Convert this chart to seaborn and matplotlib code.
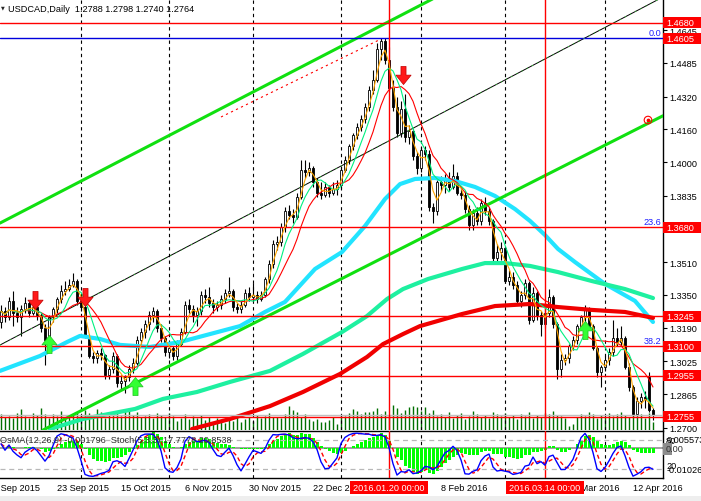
import matplotlib
matplotlib.use("Agg")
import numpy as np
import pandas as pd
import seaborn as sns
import matplotlib.pyplot as plt
import matplotlib.transforms as mtransforms
from matplotlib.patches import Rectangle
from matplotlib.path import Path

# USDCAD daily bars, Sep 2015 - Apr 2016
opens = [
    1.3220, 1.3270, 1.3240, 1.3320, 1.3260, 1.3240, 1.3280, 1.3310, 1.3260, 1.3290,
    1.3250, 1.3190, 1.3130, 1.3240, 1.3280, 1.3330, 1.3370, 1.3380, 1.3400, 1.3420,
    1.3320, 1.3290, 1.3150, 1.3050, 1.3040, 1.3065, 1.3055, 1.2960, 1.2990, 1.3050,
    1.2920, 1.2930, 1.2950, 1.2990, 1.3020, 1.3130, 1.3170, 1.3210, 1.3250, 1.3270,
    1.3190, 1.3140, 1.3070, 1.3090, 1.3050, 1.3110, 1.3170, 1.3300, 1.3280, 1.3250,
    1.3270, 1.3350, 1.3340, 1.3310, 1.3290, 1.3300, 1.3330, 1.3360, 1.3370, 1.3290,
    1.3280, 1.3300, 1.3360, 1.3340, 1.3350, 1.3330, 1.3350, 1.3430, 1.3500, 1.3600,
    1.3610, 1.3680, 1.3760, 1.3740, 1.3730, 1.3830, 1.3960, 1.3950, 1.3970, 1.3900,
    1.3850, 1.3840, 1.3880, 1.3850, 1.3870, 1.3890, 1.3960, 1.4010, 1.4080, 1.4130,
    1.4170, 1.4210, 1.4270, 1.4350, 1.4400, 1.4550, 1.4590, 1.4500, 1.4360, 1.4270,
    1.4140, 1.4260, 1.4120, 1.4150, 1.4030, 1.3970, 1.4060, 1.4040, 1.3780, 1.3760,
    1.3900, 1.3890, 1.3910, 1.3880, 1.3930, 1.3850, 1.3840, 1.3770, 1.3690, 1.3750,
    1.3710, 1.3800, 1.3760, 1.3710, 1.3530, 1.3560, 1.3580, 1.3420, 1.3440, 1.3400,
    1.3320, 1.3350, 1.3410, 1.3230, 1.3360, 1.3250, 1.3210, 1.3260, 1.3340, 1.3210,
    1.2990, 1.3030, 1.3040, 1.3100, 1.3130, 1.3200, 1.3240, 1.3280, 1.3200, 1.3090,
    1.2975, 1.3000, 1.3030, 1.3070, 1.3140, 1.3120, 1.3140, 1.3000, 1.2900, 1.2770,
    1.2830, 1.2850, 1.2950, 1.2788,
]
highs = [
    1.3300, 1.3290, 1.3340, 1.3370, 1.3290, 1.3300, 1.3340, 1.3320, 1.3310, 1.3300,
    1.3260, 1.3210, 1.3250, 1.3290, 1.3340, 1.3400, 1.3420, 1.3430, 1.3456, 1.3430,
    1.3350, 1.3300, 1.3160, 1.3070, 1.3080, 1.3090, 1.3060, 1.3010, 1.3070, 1.3060,
    1.2960, 1.2960, 1.3010, 1.3040, 1.3150, 1.3190, 1.3230, 1.3270, 1.3290, 1.3280,
    1.3210, 1.3150, 1.3110, 1.3100, 1.3130, 1.3190, 1.3320, 1.3330, 1.3300, 1.3290,
    1.3370, 1.3380, 1.3390, 1.3330, 1.3320, 1.3350, 1.3380, 1.3440, 1.3380, 1.3310,
    1.3320, 1.3380, 1.3390, 1.3410, 1.3370, 1.3370, 1.3440, 1.3520, 1.3620, 1.3640,
    1.3700, 1.3780, 1.3790, 1.3770, 1.3850, 1.4010, 1.4010, 1.4000, 1.3980, 1.3920,
    1.3900, 1.3900, 1.3890, 1.3900, 1.3910, 1.3980, 1.4030, 1.4090, 1.4140, 1.4190,
    1.4230, 1.4290, 1.4370, 1.4450, 1.4580, 1.4605, 1.4605, 1.4560, 1.4400, 1.4320,
    1.4300, 1.4330, 1.4180, 1.4160, 1.4050, 1.4080, 1.4080, 1.4060, 1.3800, 1.3910,
    1.3930, 1.3940, 1.3950, 1.3990, 1.3950, 1.3880, 1.3860, 1.3790, 1.3770, 1.3780,
    1.3820, 1.3830, 1.3780, 1.3720, 1.3600, 1.3610, 1.3590, 1.3470, 1.3460, 1.3420,
    1.3370, 1.3430, 1.3420, 1.3390, 1.3370, 1.3270, 1.3290, 1.3380, 1.3350, 1.3220,
    1.3060, 1.3060, 1.3110, 1.3150, 1.3210, 1.3250, 1.3300, 1.3290, 1.3210, 1.3100,
    1.3010, 1.3050, 1.3090, 1.3230, 1.3190, 1.3200, 1.3150, 1.3020, 1.2910, 1.2850,
    1.2870, 1.2880, 1.2975, 1.2798,
]
lows = [
    1.3190, 1.3220, 1.3230, 1.3200, 1.3220, 1.3150, 1.3260, 1.3240, 1.3250, 1.3230,
    1.3170, 1.3010, 1.3120, 1.3220, 1.3260, 1.3310, 1.3350, 1.3370, 1.3390, 1.3300,
    1.3270, 1.3140, 1.3040, 1.3020, 1.3020, 1.3030, 1.2940, 1.2940, 1.2970, 1.2900,
    1.2890, 1.2870, 1.2930, 1.2970, 1.3010, 1.3100, 1.3140, 1.3180, 1.3220, 1.3170,
    1.3120, 1.3050, 1.3040, 1.3030, 1.3030, 1.3100, 1.3160, 1.3260, 1.3220, 1.3200,
    1.3250, 1.3310, 1.3290, 1.3260, 1.3270, 1.3280, 1.3310, 1.3340, 1.3270, 1.3260,
    1.3260, 1.3290, 1.3320, 1.3320, 1.3310, 1.3320, 1.3340, 1.3410, 1.3480, 1.3570,
    1.3590, 1.3660, 1.3720, 1.3700, 1.3720, 1.3820, 1.3920, 1.3930, 1.3880, 1.3830,
    1.3820, 1.3830, 1.3830, 1.3840, 1.3840, 1.3870, 1.3950, 1.3990, 1.4060, 1.4110,
    1.4150, 1.4190, 1.4250, 1.4330, 1.4390, 1.4500, 1.4480, 1.4340, 1.4250, 1.4120,
    1.4120, 1.4100, 1.4090, 1.4010, 1.3940, 1.3950, 1.4010, 1.3760, 1.3700, 1.3740,
    1.3860, 1.3850, 1.3860, 1.3870, 1.3840, 1.3820, 1.3750, 1.3670, 1.3670, 1.3690,
    1.3690, 1.3740, 1.3690, 1.3510, 1.3500, 1.3520, 1.3410, 1.3400, 1.3380, 1.3300,
    1.3290, 1.3330, 1.3210, 1.3220, 1.3230, 1.3150, 1.3190, 1.3240, 1.3190, 1.2940,
    1.2950, 1.3010, 1.3020, 1.3080, 1.3110, 1.3180, 1.3220, 1.3190, 1.3080, 1.2950,
    1.2900, 1.2980, 1.3010, 1.3050, 1.3100, 1.3100, 1.2990, 1.2880, 1.2760, 1.2760,
    1.2800, 1.2800, 1.2780, 1.2740,
]
closes = [
    1.3270, 1.3240, 1.3320, 1.3260, 1.3240, 1.3280, 1.3310, 1.3260, 1.3290, 1.3250,
    1.3190, 1.3130, 1.3240, 1.3280, 1.3330, 1.3370, 1.3380, 1.3400, 1.3420, 1.3320,
    1.3290, 1.3150, 1.3050, 1.3040, 1.3065, 1.3055, 1.2960, 1.2990, 1.3050, 1.2920,
    1.2930, 1.2950, 1.2990, 1.3020, 1.3130, 1.3170, 1.3210, 1.3250, 1.3270, 1.3190,
    1.3140, 1.3070, 1.3090, 1.3050, 1.3110, 1.3170, 1.3300, 1.3280, 1.3250, 1.3270,
    1.3350, 1.3340, 1.3310, 1.3290, 1.3300, 1.3330, 1.3360, 1.3370, 1.3290, 1.3280,
    1.3300, 1.3360, 1.3340, 1.3350, 1.3330, 1.3350, 1.3430, 1.3500, 1.3600, 1.3610,
    1.3680, 1.3760, 1.3740, 1.3730, 1.3830, 1.3960, 1.3950, 1.3970, 1.3900, 1.3850,
    1.3840, 1.3880, 1.3850, 1.3870, 1.3890, 1.3960, 1.4010, 1.4080, 1.4130, 1.4170,
    1.4210, 1.4270, 1.4350, 1.4400, 1.4550, 1.4590, 1.4500, 1.4360, 1.4270, 1.4140,
    1.4260, 1.4120, 1.4150, 1.4030, 1.3970, 1.4060, 1.4040, 1.3780, 1.3760, 1.3900,
    1.3890, 1.3910, 1.3880, 1.3930, 1.3850, 1.3840, 1.3770, 1.3690, 1.3750, 1.3710,
    1.3800, 1.3760, 1.3710, 1.3530, 1.3560, 1.3580, 1.3420, 1.3440, 1.3400, 1.3320,
    1.3350, 1.3410, 1.3230, 1.3360, 1.3250, 1.3210, 1.3260, 1.3340, 1.3210, 1.2990,
    1.3030, 1.3040, 1.3100, 1.3130, 1.3200, 1.3240, 1.3280, 1.3200, 1.3090, 1.2975,
    1.3000, 1.3030, 1.3070, 1.3140, 1.3120, 1.3140, 1.3000, 1.2900, 1.2770, 1.2830,
    1.2850, 1.2840, 1.2788, 1.2764,
]
volumes = [
    16, 13, 14, 12, 17, 21, 14, 12, 17, 15, 22, 16, 12, 16, 14, 19, 12, 15, 16, 18, 15,
    20, 17, 14, 21, 18, 12, 16, 15, 17, 14, 19, 22, 15, 18, 13, 14, 16, 12, 17, 15,
    13, 17, 14, 9, 12, 16, 11, 14, 12, 15, 10, 13, 8, 12, 10, 7, 12, 9, 14, 8, 11, 13, 9,
    15, 12, 14, 17,
    13, 13, 12, 16, 24, 20, 18, 13, 16, 11, 9, 11, 8, 8, 10, 13, 6, 14, 14, 17, 21, 19,
    16, 18, 18, 19, 22, 16, 19, 14, 25, 22, 17, 20, 23, 24, 23,
    19, 23, 17, 20, 14, 16, 13, 18, 12, 15, 17, 11, 14, 19, 16, 13, 15, 12, 18, 16,
    14, 17, 13, 15, 11, 16, 14, 18, 12, 15, 13, 17, 16, 19, 15, 14, 12, 4, 6, 13,
    16, 14, 18, 16, 12, 15, 13, 17, 14, 16, 18, 15, 13, 17, 14, 16, 12, 17, 8,
]

# slow moving averages, sampled off the chart (bar index, price)
ma_aqua_bars = [-0.25, 9.75, 16.5, 19.75, 24.75, 29.75, 37.25, 44.75, 52.25, 59.75, 66, 71,
                78.5, 85.25, 91, 96, 99.75, 103.5, 108.5, 113.5, 118.5, 123.5, 128.5,
                132.25, 136, 139.25, 143.5, 151, 158.5, 163]
ma_aqua = [1.2979, 1.3052, 1.3120, 1.3150, 1.3135, 1.3106, 1.3096, 1.3120, 1.3159, 1.3198,
           1.3267, 1.3316, 1.3477, 1.3560, 1.3687, 1.3819, 1.3892, 1.3917, 1.3922, 1.3907,
           1.3878, 1.3834, 1.3770, 1.3712, 1.3643, 1.3575, 1.3511, 1.3404, 1.3321, 1.3218]
ma_green_bars = [12.25, 20.5, 33.5, 40.5, 49, 57.25, 67.25, 75.5, 85.25, 91.5, 96.5, 100.5,
                 106.75, 115.25, 121, 126, 132.25, 139.25, 147.75, 156, 163]
ma_green = [1.2695, 1.2744, 1.2793, 1.2842, 1.2876, 1.2925, 1.2979, 1.3062, 1.3169, 1.3247,
            1.3330, 1.3379, 1.3428, 1.3477, 1.3506, 1.3506, 1.3492, 1.3462, 1.3418, 1.3379,
            1.3335]
ma_red_bars = [47.75, 57.25, 67.25, 75.5, 84.75, 91.5, 95.5, 100.5, 104.75, 115.25, 123.5,
               132.25, 139.25, 147.75, 156, 163]
ma_red = [1.2695, 1.2744, 1.2807, 1.2876, 1.2964, 1.3047, 1.3110, 1.3159, 1.3198, 1.3257,
          1.3296, 1.3306, 1.3291, 1.3277, 1.3267, 1.3238]

# drawn objects
red_levels = [1.4680, 1.3680, 1.3245, 1.3100, 1.2955, 1.2755]
fib_zero = 1.4605
box_levels = [1.4680, 1.4605, 1.3680, 1.3245, 1.3100, 1.2955, 1.2755]
fib_labels = ["0.0", "23.6", "38.2"]
fib_prices = [1.4605, 1.3680, 1.3100]
price_ticks = [1.4645, 1.4485, 1.4320, 1.4160, 1.4000, 1.3835, 1.3510, 1.3350,
               1.3190, 1.3025, 1.2865, 1.2700]
upper_channel = [(0, 1.3704), (100, 1.4717)]
lower_channel = [(32, 1.2903), (165, 1.4221)]
mid_channel = [(0, 1.3108), (160, 1.4750)]
red_dash_bars = [55, 95]
red_dash_prices = [1.4220, 1.4601]
down_bars = [8.5, 21, 100.5]
down_prices = [1.3326, 1.3338, 1.4425]
up_bars = [12, 33.5, 146]
up_prices = [1.3110, 1.2903, 1.3177]
grid_bars = [20, 42, 63, 85, 105, 126, 151]
event_bars = [97, 136]
event_labels = ["2016.01.20 00:00", "2016.03.14 00:00"]
date_bars = [-2, 14, 30, 46, 62, 78, 110, 143, 158]
date_labels = ["1 Sep 2015", "23 Sep 2015", "15 Oct 2015", "6 Nov 2015", "30 Nov 2015",
               "22 Dec 2015", "8 Feb 2016", "1 Mar 2016", "12 Apr 2016"]
sub_title = "OsMA(12,26,9) -0.001796  Stoch(5,3,3) 17.7778 20.8538"

sns.set_theme(style="white")
plt.rcParams["font.family"] = ["Liberation Sans", "DejaVu Sans"]
FS = 6.6

df = pd.DataFrame({"bar": np.arange(len(closes)), "open": opens, "high": highs,
                   "low": lows, "close": closes, "volume": volumes})
df["ma3"] = df["close"].rolling(3, min_periods=1).mean()
df["ma6"] = df["close"].rolling(6, min_periods=1).mean()
df["ma10"] = df["close"].rolling(10, min_periods=1).mean()
macd = df["close"].ewm(span=12, adjust=False).mean() - df["close"].ewm(span=26, adjust=False).mean()
df["osma"] = macd - macd.rolling(9, min_periods=1).mean()
ll = df["low"].rolling(5, min_periods=1).min()
hh = df["high"].rolling(5, min_periods=1).max()
df["k"] = 100 * (df["close"] - ll).rolling(3, min_periods=1).sum() / (hh - ll).rolling(3, min_periods=1).sum()
df["d"] = df["k"].rolling(3, min_periods=1).mean()

W, H = 701, 502
fig = plt.figure(figsize=(W / 100, H / 100), dpi=100)
fig.patch.set_facecolor("white")
ax = fig.add_axes([0, 71 / H, 663 / W, 431 / H])
ax_sub = fig.add_axes([0, 23 / H, 663 / W, 47 / H])
xlim = (-0.25, 165.5)
ylim = (1.26901, 1.47967)
ppx = (ylim[1] - ylim[0]) / 431

# volumes behind the price chart
ax_vol = ax.twinx()
ax_vol.set_zorder(ax.get_zorder() - 1)
ax.patch.set_visible(False)
ax_vol.vlines(df["bar"], 0, df["volume"], color="#007000", lw=1.0)
ax_vol.set_ylim(0, max(volumes) * 431 / 25)
ax_vol.axis("off")

# candles
up = df["close"] >= df["open"]
ax.vlines(df["bar"], df["low"], df["high"], color="black", lw=0.8, zorder=2)
body_lo = np.minimum(df["open"], df["close"])
body_h = np.maximum((df["close"] - df["open"]).abs(), 0.0002)
ax.bar(df["bar"], body_h, bottom=body_lo, width=0.6,
       color=np.where(up, "white", "black"), edgecolor="black", linewidth=0.6, zorder=2.2)

# slow MAs
sns.lineplot(x=ma_aqua_bars, y=ma_aqua, ax=ax, color="#22E4FF", linewidth=3, zorder=3)
sns.lineplot(x=ma_green_bars, y=ma_green, ax=ax, color="#1EF0A0", linewidth=3, zorder=3)
sns.lineplot(x=ma_red_bars, y=ma_red, ax=ax, color="#F00000", linewidth=3, zorder=3)

# fast MAs
sns.lineplot(data=df, x="bar", y="ma10", ax=ax, color="#FF0000", linewidth=0.8, zorder=5)
sns.lineplot(data=df, x="bar", y="ma6", ax=ax, color="#00F080", linewidth=0.8, zorder=5)
sns.lineplot(data=df, x="bar", y="ma3", ax=ax, color="#FFA500", linewidth=0.8, zorder=5)

# trend channel
ax.axline(*upper_channel, color="#10E010", lw=2.2, zorder=4)
ax.axline(*lower_channel, color="#10E010", lw=2.2, zorder=4)
ax.axline(*mid_channel, color="black", lw=0.7, zorder=4)
ax.axline(*mid_channel, color="#30D030", lw=0.7, ls=(0, (1, 5)), zorder=4.1)
ax.plot(red_dash_bars, red_dash_prices, color="red", lw=0.8, ls=(0, (2, 3)), zorder=4)

# horizontal levels
for lvl in red_levels:
    ax.axhline(lvl, color="red", lw=1.0, zorder=4)
ax.axhline(fib_zero, color="#0000DD", lw=1.0, zorder=4)
ax.axhline(df["close"].iloc[-1], color="#C0C0C0", lw=1.0, zorder=3.9)
blend_ax = mtransforms.blended_transform_factory(ax.transAxes, ax.transData)
for lab, p in zip(fib_labels, fib_prices):
    ax.text(0.997, p + 1.2 * ppx, lab, transform=blend_ax, ha="right", va="bottom",
            color="#2020FF", fontsize=FS, zorder=8)

# vertical lines
for b in grid_bars:
    for a in (ax, ax_sub):
        a.axvline(b, color="black", lw=0.8, ls=(0, (3, 3)), zorder=1.5)
for b in event_bars:
    for a in (ax, ax_sub):
        a.axvline(b, color="red", lw=1.0, zorder=4)

# signal arrows
down_path = Path([(-0.14, 0.5), (0.14, 0.5), (0.14, 0.02), (0.42, 0.02), (0, -0.5),
                  (-0.42, 0.02), (-0.14, 0.02), (-0.14, 0.5)], closed=True)
up_path = Path([(x, -y) for x, y in down_path.vertices], closed=True)
ax.scatter(down_bars, down_prices, marker=down_path, s=170, color="#FF1A1A",
           edgecolors="#C00000", linewidths=0.5, zorder=7)
ax.scatter(up_bars, up_prices, marker=up_path, s=170, color="#33FF33",
           edgecolors="#20C020", linewidths=0.5, zorder=7)
ax.scatter([161.75], [1.4205], marker="o", s=30, facecolors="none", edgecolors="red",
           linewidths=0.8, zorder=7)
ax.scatter([161.75], [1.4207], marker="o", s=3, color="red", zorder=7)

ax.set_xlim(xlim)
ax.set_ylim(ylim)
ax.set_xticks([])
ax.set_xlabel("")
ax.set_ylabel("")
ax.yaxis.tick_right()
ax.set_yticks(price_ticks)
ax.set_yticklabels([f"{p:.4f}" for p in price_ticks])
ax.tick_params(axis="y", right=True, left=False, labelright=True, labelleft=False,
               length=3, width=0.8, pad=1.5, labelsize=FS, colors="black")
for side in ("left", "top", "bottom"):
    ax.spines[side].set_visible(False)
ax.spines["right"].set_color("black")
ax.spines["right"].set_linewidth(1.0)

# price boxes on the scale
blend_fig = mtransforms.blended_transform_factory(fig.transFigure, ax.transData)
for lvl in box_levels:
    fig.add_artist(Rectangle((663 / W, lvl - 5.5 * ppx), 38 / W, 11 * ppx, transform=blend_fig,
                             facecolor="red", edgecolor="none", zorder=10))
    fig.text(666 / W, lvl, f"{lvl:.4f}", transform=blend_fig, color="white", fontsize=FS,
             va="center", ha="left", zorder=11)

# sub window: OsMA histogram + Stochastic
ax_sub.bar(df["bar"], df["osma"], width=0.75, color="#00FF00", edgecolor="none", zorder=2)
ax_sub.axhline(0, color="#A0A0A0", lw=1.4, zorder=1.8)
ax_sub.set_ylim(-0.01026, 0.005573)
ax_st = ax_sub.twinx()
ax_st.axhline(80, color="#B8B8B8", lw=0.9, ls=(0, (4, 3)))
ax_st.axhline(20, color="#B8B8B8", lw=0.9, ls=(0, (4, 3)))
ax_st.plot(df["bar"], df["d"], color="#FF0000", lw=1.0, ls=(0, (3, 2)))
sns.lineplot(data=df, x="bar", y="k", ax=ax_st, color="#0000FF", linewidth=1.0)
ax_st.set_ylim(0, 100)
for a in (ax_sub, ax_st):
    a.set_xlim(xlim)
    a.set_xticks([])
    a.set_yticks([])
    a.set_xlabel("")
    a.set_ylabel("")
for side in ("top", "bottom", "right"):
    ax_sub.spines[side].set_visible(True)
    ax_sub.spines[side].set_color("black")
    ax_sub.spines[side].set_linewidth(1.0)
ax_sub.spines["left"].set_visible(False)
for s in ax_st.spines.values():
    s.set_visible(False)

fig.text(0, 1 - 441 / H, sub_title, fontsize=FS, color="#303030", va="center", ha="left", zorder=12)
blend_st = mtransforms.blended_transform_factory(fig.transFigure, ax_st.transData)
fig.text(666 / W, 80, "80", transform=blend_st, fontsize=FS, va="center", color="black")
fig.text(667 / W, 82, "0.005573", transform=blend_st, fontsize=FS, va="center", color="black")
fig.text(666 / W, 27, "20", transform=blend_st, fontsize=FS, va="center", color="black")
fig.text(667 / W, 19, "-0.01026", transform=blend_st, fontsize=FS, va="center", color="black")
fig.add_artist(Rectangle((663 / W, (H - 456) / H), 9 / W, 12 / H, transform=fig.transFigure,
                         facecolor="#8C8C8C", edgecolor="none", zorder=10))
fig.text(666 / W, 1 - 450 / H, "0.00", fontsize=FS, va="center", color="#303030", zorder=11)

# header
fig.text(0.5 / W, 1 - 8 / H, "\u25BC", fontsize=3.5, family="DejaVu Sans", va="center")
fig.text(8 / W, 1 - 9 / H,
         f"USDCAD,Daily  {opens[-1]:.4f} {highs[-1]:.4f} {lows[-1]:.4f} {closes[-1]:.4f}",
         fontsize=FS, va="center", ha="left", color="black", zorder=12)

# time scale
blend_t = mtransforms.blended_transform_factory(ax_sub.transData, fig.transFigure)
for b, lab in zip(date_bars, date_labels):
    fig.text(b, (H - 489) / H, lab, transform=blend_t, fontsize=FS, va="center", ha="left",
             color="black", zorder=5)
for b, lab in zip(event_bars, event_labels):
    fig.add_artist(Rectangle((b - 9.75, (H - 495) / H), 19.5, 13 / H, transform=blend_t,
                             facecolor="red", edgecolor="none", zorder=10))
    fig.text(b, (H - 488.5) / H, lab, transform=blend_t, fontsize=FS, va="center",
             ha="center", color="white", zorder=11)
fig.add_artist(Rectangle((0, 0), 1, 5 / H, transform=fig.transFigure,
                         facecolor="#EEEEEE", edgecolor="none", zorder=1))

fig.savefig("out.png", dpi=100)
